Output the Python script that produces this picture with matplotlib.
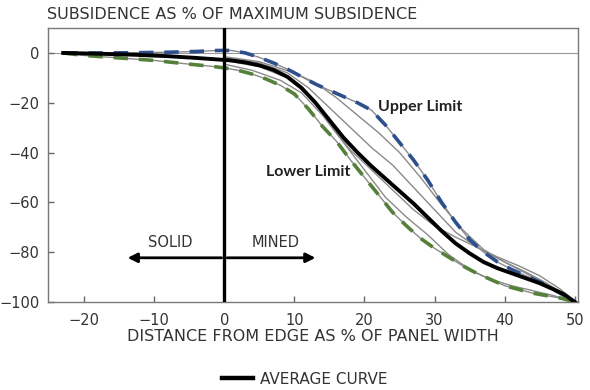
import numpy as np
import matplotlib
matplotlib.use('Agg')
import matplotlib.pyplot as plt

# curves (x = % of panel width, y = % of max subsidence)
upper_x = [-23, -18, -13, -8, -4, -1, 1, 3, 5, 7, 9, 11, 13, 15, 17, 19, 21, 23, 25, 27, 29, 31,
           33, 35, 37, 39, 41, 43, 45, 47, 50]
upper_y = [0, 0, 0.1, 0.3, 0.6, 1, 1, 0, -1.8, -4, -6.5, -9.5, -12.5, -15, -17.5, -20, -23, -29, -36,
           -43, -51, -60, -68, -75, -80, -84, -87, -89.5, -92, -95, -100]

lower_x = [-23, -20, -15, -10, -5, -2, 0, 2, 4, 6, 8, 10, 12, 14, 16, 18, 20, 22, 24, 26, 28, 30,
           32, 34, 36, 38, 40, 42, 44, 46, 48, 50]
lower_y = [0, -1, -2, -3, -4.5, -5.3, -6, -7, -8.5, -10.5, -13, -16.5, -22.5, -29.5, -35.5, -43, -50,
           -57, -64, -69.5, -74.5, -78.5, -82, -85.5, -88.5, -91, -93.5, -95, -96.5, -97.5, -98.5, -100]

avg_x = [-23, -18, -13, -8, -4, -1, 1, 3, 5, 7, 9, 11, 13, 15, 17, 19, 21, 23, 25, 27, 29, 31, 33,
         35, 37, 39, 41, 43, 45, 47, 48.5, 50]
avg_y = [0, -0.3, -0.7, -1.3, -2, -2.6, -3, -3.8, -5, -6.8, -9.6, -14, -20, -27, -34, -40, -45.5,
         -50.5, -55.5, -60.5, -66, -71.5, -76.5, -80.5, -84, -86.5, -88.5, -90.5, -92.5, -95, -97, -100]

# individual measured profiles (thin grey)
g1_x = [0, 5, 10, 13, 16, 19, 22, 25, 28, 31, 34, 37, 40, 43, 46, 50]
g1_y = [-1.5, -3.5, -8, -12, -18, -25, -32, -40, -50, -61, -71, -79, -84, -88, -92.5, -100]
g2_x = [0, 5, 9, 12, 15, 18, 21, 24, 27, 30, 33, 36, 39, 42, 45, 48, 50]
g2_y = [-2, -4, -8, -14, -22, -30, -38, -45, -54, -63, -72, -78, -82, -85.5, -89.5, -95, -100]
g3_x = [0, 5, 9, 12, 14, 16, 18, 21, 24, 27, 30, 33, 36, 39, 42, 45, 48, 50]
g3_y = [-3, -5.5, -10, -17, -24, -32, -39, -47, -55, -63, -69.5, -74, -78, -82.5, -87, -91.5, -96, -100]
g4_x = [0, 4, 8, 11, 14, 17, 20, 23, 26, 29, 32, 35, 38, 41, 44, 47, 50]
g4_y = [-4.5, -7, -11, -16, -25, -36, -47, -58, -66, -73, -81, -87, -91, -93.5, -95.5, -97.5, -100]

grey_curves = [(g1_x, g1_y), (g2_x, g2_y), (g3_x, g3_y), (g4_x, g4_y)]

xticks = [-20, -10, 0, 10, 20, 30, 40, 50]
yticks = [0, -20, -40, -60, -80, -100]

fig = plt.figure(figsize=(5.9, 3.9), dpi=100)
ax = fig.add_axes([0.081, 0.226, 0.899, 0.702])

grey = '#8a8a8a'
ax.axhline(0, color='#999999', lw=0.8, zorder=1)

for gx, gy in grey_curves:
    ax.plot(gx, gy, color=grey, lw=1.0, zorder=2)

# limits: grey line with coloured dashes over it
ax.plot(upper_x, upper_y, color=grey, lw=1.0, zorder=2)
ax.plot(upper_x, upper_y, color='#2d4f8e', lw=2.6, dashes=(4, 3), zorder=3)
ax.plot(lower_x, lower_y, color=grey, lw=1.0, zorder=2)
ax.plot(lower_x, lower_y, color='#55803a', lw=2.6, dashes=(4, 3), zorder=3)

avg_line, = ax.plot(avg_x, avg_y, color='black', lw=2.8, zorder=4, label='AVERAGE CURVE',
                    solid_joinstyle='round')

ax.axvline(0, color='black', lw=2.4, zorder=5)

ax.annotate('', xy=(-14.2, -82.3), xytext=(0, -82.3),
            arrowprops=dict(arrowstyle='-|>', color='black', lw=2, mutation_scale=14))
ax.annotate('', xy=(13.4, -82.3), xytext=(0, -82.3),
            arrowprops=dict(arrowstyle='-|>', color='black', lw=2, mutation_scale=14))

ax.text(-7.7, -76, 'SOLID', ha='center', va='center', fontsize=10.5, color='#333333')
ax.text(7.3, -76, 'MINED', ha='center', va='center', fontsize=10.5, color='#333333')

ax.text(21.9, -21.7, 'Upper Limit', ha='left', va='center', fontsize=11.5,
        fontweight='bold', family='Lato', color='#222222')
ax.text(5.9, -47.8, 'Lower Limit', ha='left', va='center', fontsize=11.5,
        fontweight='bold', family='Lato', color='#222222')

ax.set_xlim(-25.2, 50.5)
ax.set_ylim(-100, 10)
ax.set_xticks(xticks)
ax.set_yticks(yticks)
ax.tick_params(direction='in', length=4, width=1, colors='#666666', labelcolor='#333333',
               labelsize=10.5, pad=6)
ax.tick_params(axis='x', pad=8)
for s in ax.spines.values():
    s.set_color('#777777')
    s.set_linewidth(1)

ax.set_xlabel('DISTANCE FROM EDGE AS % OF PANEL WIDTH', fontsize=11.5, color='#333333', labelpad=1)
fig.text(0.08, 0.962, 'SUBSIDENCE AS % OF MAXIMUM SUBSIDENCE', fontsize=11.5,
         color='#333333', ha='left', va='center')

leg = fig.legend(handles=[avg_line], loc='center', bbox_to_anchor=(0.517, 0.028), frameon=False,
                 fontsize=11, handlelength=2.0, handletextpad=0.5, labelcolor='#333333')
leg.get_lines()[0].set_linewidth(3.2)

fig.savefig('out.png', dpi=100)
